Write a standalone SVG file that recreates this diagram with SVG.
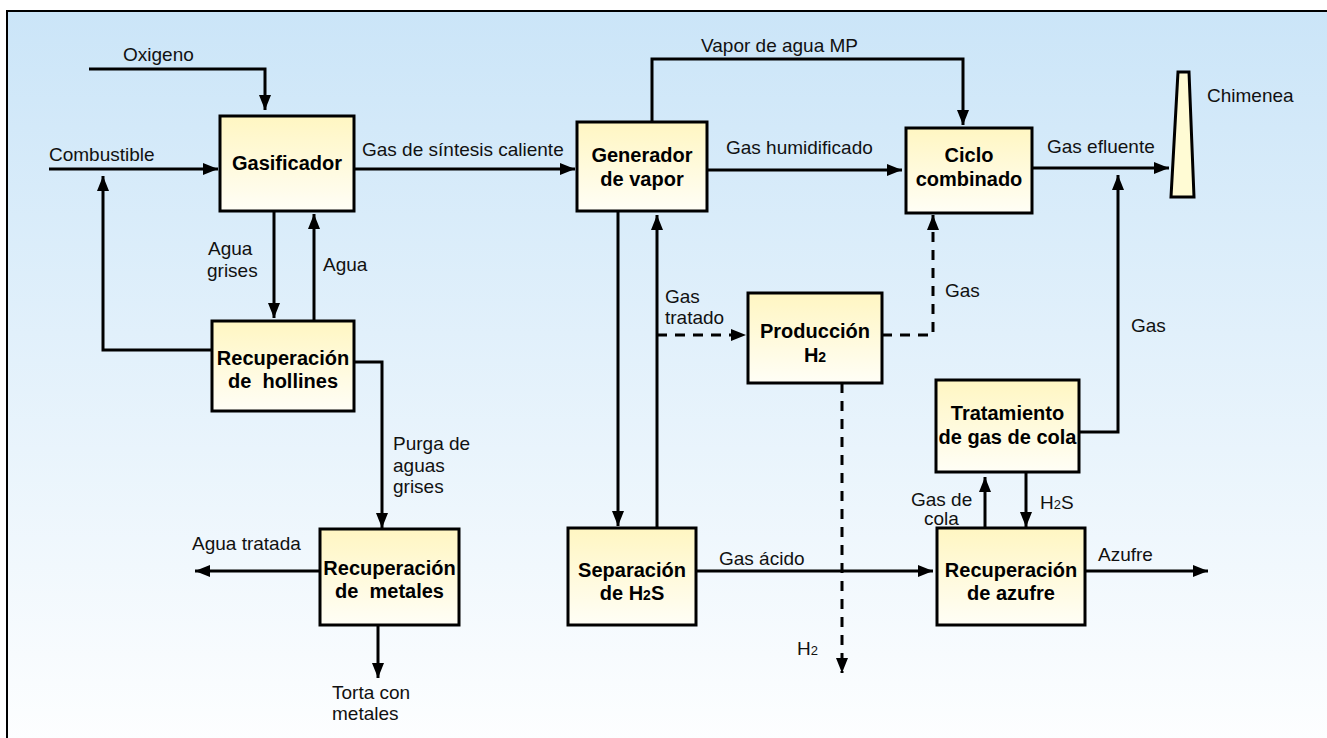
<svg xmlns="http://www.w3.org/2000/svg" width="1327" height="738" viewBox="0 0 1327 738">
<defs>
<linearGradient id="bg" x1="0" y1="0" x2="0" y2="1">
<stop offset="0" stop-color="#cbe5f8"/>
<stop offset="1" stop-color="#ffffff"/>
</linearGradient>
<linearGradient id="box" x1="0" y1="0" x2="0" y2="1">
<stop offset="0" stop-color="#fff6c2"/>
<stop offset="1" stop-color="#fffef6"/>
</linearGradient>
<marker id="ah" markerUnits="userSpaceOnUse" markerWidth="16" markerHeight="12" refX="15" refY="6" orient="auto">
<path d="M0,0 L15,6 L0,12 z" fill="#000"/>
</marker>
<style>
.bx{fill:url(#box);stroke:#000;stroke-width:3}
.t{font-family:"Liberation Sans",Arial,sans-serif;font-size:19px;fill:#111}
.b{font-family:"Liberation Sans",Arial,sans-serif;font-size:20px;font-weight:bold;fill:#000;text-anchor:middle;white-space:pre}
.c{fill:none;stroke:#000;stroke-width:3;marker-end:url(#ah)}
.n{fill:none;stroke:#000;stroke-width:3}
.d{stroke-dasharray:10 8}
</style>
</defs>
<rect x="0" y="0" width="1327" height="738" fill="#fff"/>
<rect x="7" y="11" width="1340" height="760" fill="url(#bg)" stroke="#000" stroke-width="2"/>

<g id="connectors">
<path class="c" d="M89,69 H265 V110"/>
<path class="c" d="M49,169 H218"/>
<path class="c" d="M354,169 H575"/>
<path class="c" d="M707,170 H902"/>
<path class="c" d="M652,122 V59 H963 V125"/>
<path class="c" d="M1032,168 H1169"/>
<path class="c" d="M1079,432 H1118 V175"/>
<path class="c" d="M274,211 V318"/>
<path class="c" d="M314,321 V214"/>
<path class="c" d="M212,350 H103 V176"/>
<path class="c" d="M354,362 H382 V528"/>
<path class="c" d="M320,571 H195"/>
<path class="c" d="M378,625 V678"/>
<path class="c" d="M618,211 V526"/>
<path class="c" d="M657,528 V215"/>
<path class="c d" d="M657,335 H746"/>
<path class="c d" d="M882,335 H933 V215"/>
<path class="c d" d="M842,383 V673"/>
<path class="c" d="M696,571 H933"/>
<path class="c" d="M985,528 V477"/>
<path class="c" d="M1026,472 V527"/>
<path class="c" d="M1085,571 H1208"/>
</g>

<g id="labels">
<text class="t" x="123" y="61">Oxigeno</text>
<text class="t" x="49" y="161">Combustible</text>
<text class="t" x="362" y="156">Gas de síntesis caliente</text>
<text class="t" x="701" y="52">Vapor de agua MP</text>
<text class="t" x="726" y="154">Gas humidificado</text>
<text class="t" x="1047" y="153">Gas efluente</text>
<text class="t" x="1207" y="102">Chimenea</text>
<text class="t" x="208" y="255">Agua</text>
<text class="t" x="207" y="277">grises</text>
<text class="t" x="323" y="271">Agua</text>
<text class="t" x="393" y="450">Purga de</text>
<text class="t" x="393" y="472">aguas</text>
<text class="t" x="393" y="493">grises</text>
<text class="t" x="192" y="550">Agua tratada</text>
<text class="t" x="332" y="699">Torta con</text>
<text class="t" x="332" y="720">metales</text>
<text class="t" x="665" y="303">Gas</text>
<text class="t" x="665" y="324">tratado</text>
<text class="t" x="945" y="297">Gas</text>
<text class="t" x="1131" y="332">Gas</text>
<text class="t" x="797" y="655">H<tspan font-size="13">2</tspan></text>
<text class="t" x="719" y="565">Gas ácido</text>
<text class="t" x="911" y="506">Gas de</text>
<text class="t" x="924" y="525">cola</text>
<text class="t" x="1040" y="509">H<tspan font-size="13">2</tspan>S</text>
<text class="t" x="1098" y="561">Azufre</text>
</g>

<g id="chimenea">
<polygon points="1178,72 1189,72 1194,197 1171,197" fill="#fffbd4" stroke="#000" stroke-width="3" stroke-linejoin="miter"/>
</g>

<g id="gasificador">
<rect class="bx" x="220" y="116" width="134" height="95"/>
<text class="b" x="287" y="170">Gasificador</text>
</g>

<g id="generador">
<rect class="bx" x="577" y="122" width="130" height="89"/>
<text class="b" x="642" y="162">Generador</text>
<text class="b" x="642" y="186">de vapor</text>
</g>

<g id="ciclo">
<rect class="bx" x="906" y="128" width="126" height="85"/>
<text class="b" x="969" y="162">Ciclo</text>
<text class="b" x="969" y="186">combinado</text>
</g>

<g id="hollines">
<rect class="bx" x="212" y="321" width="142" height="90"/>
<text class="b" x="283" y="365">Recuperación</text>
<text class="b" x="283" y="388">de  hollines</text>
</g>

<g id="produccion">
<rect class="bx" x="748" y="293" width="134" height="90"/>
<text class="b" x="815" y="338">Producción</text>
<text class="b" x="815" y="362">H<tspan font-size="14">2</tspan></text>
</g>

<g id="tratamiento">
<rect class="bx" x="936" y="380" width="143" height="92"/>
<text class="b" x="1007.5" y="420">Tratamiento</text>
<text class="b" x="1007.5" y="444">de gas de cola</text>
</g>

<g id="metales">
<rect class="bx" x="320" y="529" width="139" height="96"/>
<text class="b" x="389.5" y="575">Recuperación</text>
<text class="b" x="389.5" y="598">de  metales</text>
</g>

<g id="separacion">
<rect class="bx" x="568" y="528" width="128" height="97"/>
<text class="b" x="632" y="577">Separación</text>
<text class="b" x="632" y="600">de H<tspan font-size="14">2</tspan>S</text>
</g>

<g id="azufre">
<rect class="bx" x="937" y="528" width="148" height="97"/>
<text class="b" x="1011" y="577">Recuperación</text>
<text class="b" x="1011" y="600">de azufre</text>
</g>
</svg>
